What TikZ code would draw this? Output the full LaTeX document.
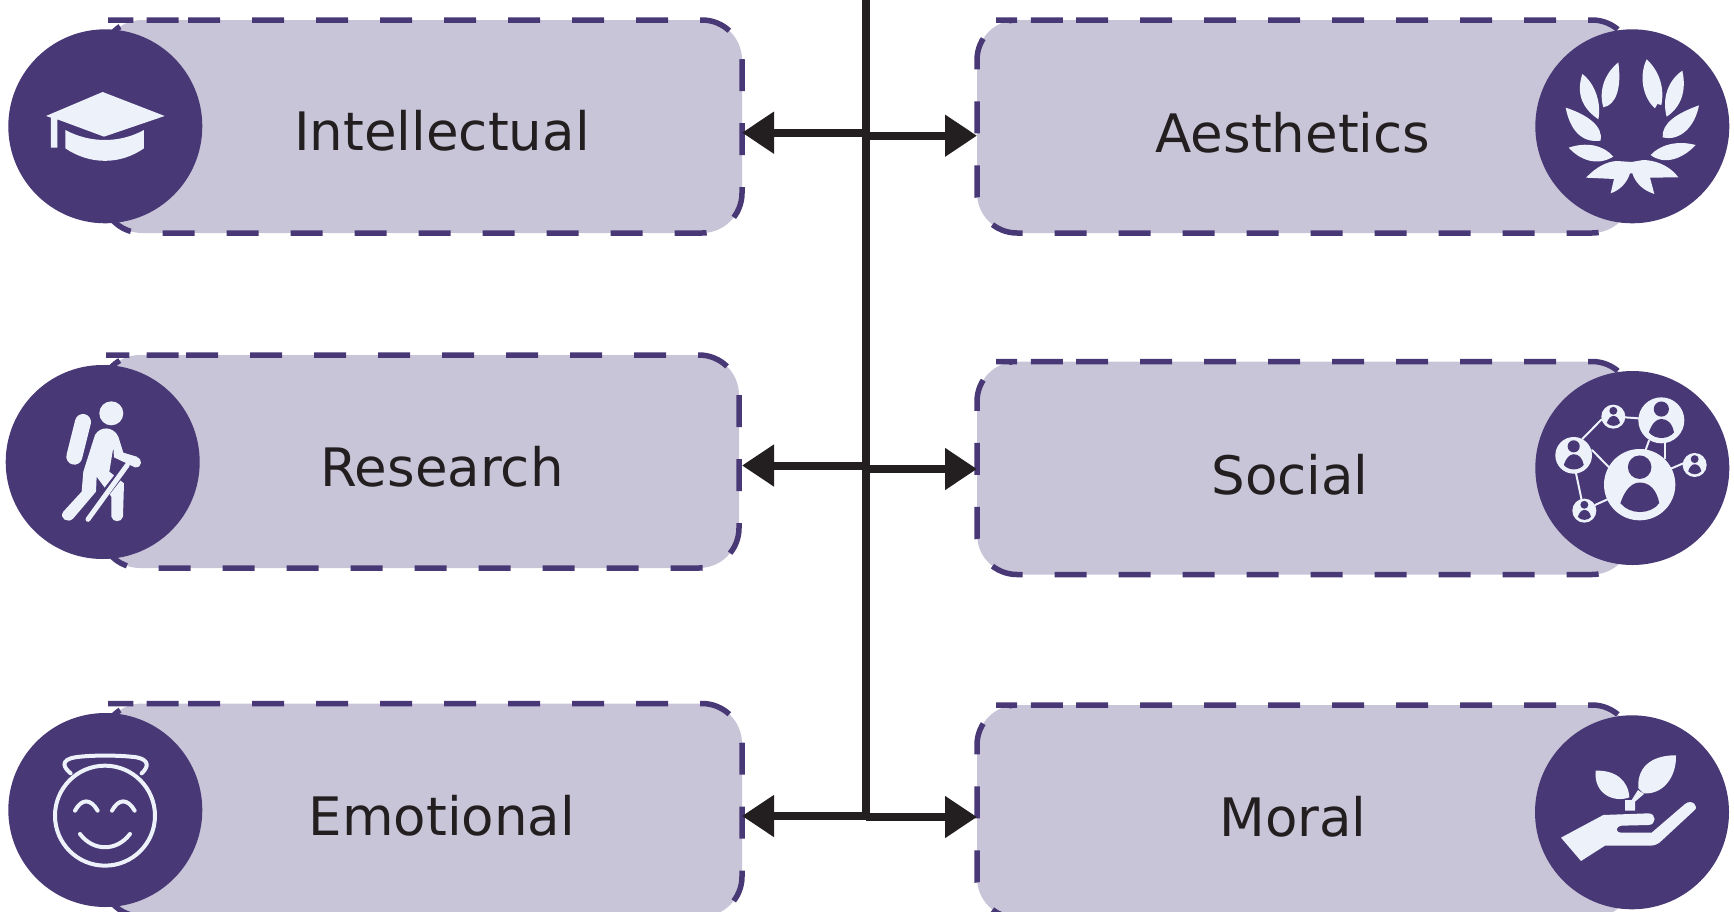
\documentclass[tikz,border=0pt]{standalone}
\usepackage{fontspec}
\setmainfont{DejaVu Sans}
\usetikzlibrary{arrows.meta,calc}
\definecolor{dpurple}{HTML}{483876}
\definecolor{lpurple}{HTML}{C9C5D8}
\definecolor{iconw}{HTML}{EDF2FA}
\definecolor{ink}{HTML}{231F20}
\tikzset{
 x=1pt,y=-1pt,
 boxfill/.style={fill=lpurple,draw=none,rounded corners=40pt,inner sep=0pt,outer sep=0pt,minimum width=#1,minimum height=213pt},
 dashline/.style={draw=dpurple,line width=5.5pt,dash pattern=on 32pt off 32pt,rounded corners=40pt},
 disc/.style={circle,fill=dpurple,draw=none,minimum size=194pt,inner sep=0pt,outer sep=0pt},
 lbl/.style={anchor=base,text=ink,font=\fontsize{53}{60}\selectfont,inner sep=0pt},
 trunk/.style={draw=ink,line width=8pt},
 arrowline/.style={draw=ink,line width=8pt,-{Triangle[length=32pt,width=40pt,fill=ink]}},
 icon/.style={fill=iconw,draw=none},
 iconline/.style={draw=iconw,line cap=round,line join=round,fill=none},
 zoomed/.style 2 args={shift={(#1,#2)},x=0.3333pt,y=-0.3333pt},
}
\newcommand{\dashedge}[2]{\draw[dashline] ([xshift=#2]#1.north west) -- (#1.north east) -- (#1.south east) -- (#1.south west) -- (#1.north west) -- cycle;}
\newcommand{\person}[3]{\begin{scope}[shift={(#1,#2)},scale=#3]
 \fill[iconw] (0,0) circle[radius=1];
 \fill[dpurple] (0,-.49) circle[radius=.33];
 \fill[dpurple] (-.54,.52) .. controls (-.42,.15) and (-.22,-.06) .. (0,-.06) .. controls (.28,-.06) and (.48,.15) .. (.55,.52) .. controls (.3,.85) and (-.28,.85) .. (-.54,.52) -- cycle;
\end{scope}}
\begin{document}
\begin{tikzpicture}
\useasboundingbox (0,0) rectangle (1734,911);
% boxes
\node[boxfill=640pt] (bI) at (422,126.5) {};
\node[boxfill=639pt] (bR) at (419.5,461.5) {};
\node[boxfill=640pt] (bE) at (422,810) {};
\node[boxfill=655pt] (bA) at (1304.5,126.5) {};
\node[boxfill=655pt] (bS) at (1304.5,468) {};
\node[boxfill=655pt] (bM) at (1304.5,811.5) {};
\dashedge{bI}{46pt}\dashedge{bR}{46pt}\dashedge{bE}{46pt}
\dashedge{bA}{59pt}\dashedge{bS}{59pt}\dashedge{bM}{59pt}
% discs
\node[disc] (cI) at (105.3,126.3) {};
\node[disc] (cR) at (102.7,462) {};
\node[disc] (cE) at (105.3,810) {};
\node[disc] (cA) at (1632.3,126.3) {};
\node[disc] (cS) at (1632.3,468) {};
\node[disc] (cM) at (1632,812.3) {};
% labels
\node[lbl] (tI) at (442,150.5) {Intellectual};
\node[lbl] (tR) at (442,486.6) {Research};
\node[lbl] (tE) at (442,835) {Emotional};
\node[lbl] (tA) at (1293,152.6) {Aesthetics};
\node[lbl] (tS) at (1290,494) {Social};
\node[lbl] (tM) at (1293,836) {Moral};
% connectors
\coordinate (top) at (865.7,0);
\coordinate (jL1) at (865.7,132.7);
\coordinate (jR1) at (865.7,135.7);
\coordinate (jL2) at (865.7,465.5);
\coordinate (jR2) at (865.7,469);
\coordinate (jL3) at (865.7,816);
\coordinate (jR3) at (865.7,817);
\draw[trunk] (top) -- ([yshift=4pt]jR3);
\draw[arrowline] (jL1) -- ([yshift=-6.2pt]bI.east);
\draw[arrowline] (jR1) -- ([yshift=-9.2pt]bA.west);
\draw[arrowline] (jL2) -- ([xshift=3pt,yshift=-4pt]bR.east);
\draw[arrowline] (jR2) -- ([yshift=-1pt]bS.west);
\draw[arrowline] (jL3) -- ([yshift=-6pt]bE.east);
\draw[arrowline] (jR3) -- ([yshift=-5.5pt]bM.west);
% cap
\begin{scope}[zoomed={0}{0}]
\fill[iconw] (138,348) -- (308,276) -- (494,348) -- (312,410) -- (172,358) -- (172,443) -- (153,443) -- (153,353) -- cycle;
\fill[iconw] (196,390) .. controls (270,430) and (360,430) .. (432,390) -- (432,445) .. controls (360,495) and (270,495) .. (196,445) -- cycle;
\end{scope}
% hiker
\begin{scope}[zoomed={0}{340}]
\fill[iconw] (334,220) circle[radius=36];
\draw[iconline,line width=16pt] (249,246) -- (223,350);
\fill[iconw] (285,285) .. controls (300,258) and (340,258) .. (355,290) -- (370,338) -- (410,350) .. controls (428,356) and (428,384) .. (405,382) -- (342,352) -- (340,322) -- (328,395) -- (372,430) -- (369,530) .. controls (365,548) and (338,548) .. (334,530) -- (334,470) -- (290,410) -- (288,455) -- (220,535) .. controls (205,552) and (175,535) .. (190,515) -- (245,455) -- (250,395) -- cycle;
\draw[draw=dpurple,line width=8pt] (382,375) -- (262,530);
\draw[iconline,line width=5pt] (382,375) -- (264,538);
\end{scope}
% smiley
\begin{scope}[zoomed={0}{680}]
\draw[iconline,line width=4pt] (315,407) circle[radius=150];
\draw[iconline,line width=4pt] (212,280) .. controls (190,262) and (180,240) .. (225,232) .. controls (270,225) and (360,225) .. (410,232) .. controls (450,240) and (445,262) .. (425,280);
\draw[iconline,line width=4pt] (225,392) .. controls (245,355) and (272,355) .. (293,392);
\draw[iconline,line width=4pt] (336,392) .. controls (356,355) and (383,355) .. (404,392);
\draw[iconline,line width=4pt] (240,462) .. controls (280,515) and (350,515) .. (390,462);
\end{scope}
% laurel
\begin{scope}[zoomed={1500}{0}]
\fill[iconw] (247,222) .. controls (225,290) and (255,330) .. (295,358) .. controls (305,310) and (285,250) .. (247,222) -- cycle;
\fill[iconw] (355,187) .. controls (315,220) and (295,270) .. (310,322) .. controls (350,315) and (365,260) .. (355,187) -- cycle;
\fill[iconw] (197,323) .. controls (210,390) and (245,430) .. (302,422) .. controls (310,380) and (265,345) .. (197,323) -- cycle;
\fill[iconw] (206,443) .. controls (240,480) and (290,500) .. (340,470) .. controls (310,435) and (260,425) .. (206,443) -- cycle;
\fill[iconw] (258,533) .. controls (290,500) and (320,485) .. (350,483) -- (395,486) -- (430,480) .. controls (480,482) and (515,505) .. (535,532) -- (450,533) -- (463,582) .. controls (425,570) and (405,545) .. (397,520) -- (390,520) .. controls (380,550) and (360,570) .. (332,580) -- (342,537) -- cycle;
\fill[iconw] (440,178) .. controls (415,230) and (430,295) .. (465,325) -- (472,312) -- (484,315) .. controls (495,260) and (475,210) .. (440,178) -- cycle;
\fill[iconw] (547,212) .. controls (505,240) and (485,295) .. (500,350) .. controls (545,320) and (560,270) .. (547,212) -- cycle;
\fill[iconw] (597,316) .. controls (530,340) and (485,370) .. (488,412) .. controls (540,425) and (585,380) .. (597,316) -- cycle;
\fill[iconw] (587,435) .. controls (530,420) and (480,435) .. (452,465) .. controls (490,495) and (545,480) .. (587,435) -- cycle;
\end{scope}
% social
\begin{scope}[zoomed={1500}{350}]
\draw[iconline,line width=2pt] (247,267) -- (305,208);
\draw[iconline,line width=2pt] (375,202) -- (415,205);
\draw[iconline,line width=2pt] (276,300) -- (328,353);
\draw[iconline,line width=2pt] (228,370) -- (245,450);
\draw[iconline,line width=2pt] (285,465) -- (325,447);
\draw[iconline,line width=2pt] (447,272) -- (435,305);
\draw[iconline,line width=2pt] (495,280) -- (495,325);
\draw[iconline,line width=2pt] (515,355) -- (550,340);
\person{419}{404}{107}
\person{484}{211}{69}
\person{221}{316}{55}
\person{340}{200}{36}
\person{584}{345}{36}
\person{253}{482}{36}
\end{scope}
% plant
\begin{scope}[zoomed={1500}{680}]
\fill[iconw] (183,473) -- (310,405) -- (445,400) .. controls (470,400) and (470,435) .. (445,435) -- (365,437) .. controls (345,440) and (345,458) .. (365,458) -- (455,458) -- (555,372) .. controls (575,355) and (600,380) .. (582,392) -- (485,482) .. controls (475,492) and (465,497) .. (450,497) -- (315,497) -- (243,543) -- cycle;
\fill[iconw] (375,392) -- (375,360) -- (395,360) -- (414,330) -- (432,342) -- (405,365) -- (405,392) -- cycle;
\fill[iconw] (287,272) .. controls (345,270) and (385,300) .. (388,352) .. controls (340,370) and (280,340) .. (287,272) -- cycle;
\fill[iconw] (528,226) .. controls (530,290) and (490,345) .. (430,340) -- (415,325) .. controls (410,250) and (470,225) .. (528,226) -- cycle;
\end{scope}
\end{tikzpicture}
\end{document}
